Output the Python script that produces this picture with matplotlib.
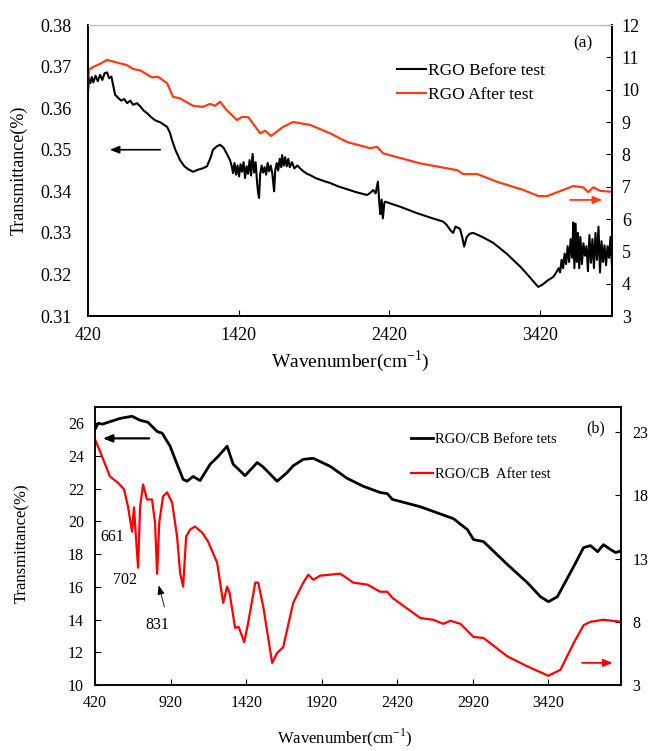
import matplotlib
matplotlib.use("Agg")
import matplotlib.pyplot as plt

plt.rcParams['font.family'] = ['Liberation Serif', 'DejaVu Serif']
plt.rcParams['mathtext.fontset'] = 'custom'
plt.rcParams['mathtext.rm'] = 'Liberation Serif'

# ---- panel (a): RGO ----
a_before_x = [420, 425, 435, 445, 455, 470, 485, 500, 515, 530, 546, 560, 575, 590, 600, 620, 640, 660, 680,
              700, 720, 745, 765, 790, 812, 840, 870, 900, 925, 945, 965, 978, 1000, 1031, 1060, 1090, 1118,
              1150, 1180, 1210, 1235, 1250, 1275, 1297, 1320, 1345, 1363, 1375,
              1383, 1393, 1403, 1413, 1423, 1433, 1443, 1453, 1463, 1473, 1483, 1493, 1503, 1513, 1523, 1533,
              1543, 1550, 1556, 1563, 1573, 1583, 1593, 1603, 1613, 1623, 1633, 1643, 1650, 1656, 1663, 1673,
              1683, 1693, 1703, 1709, 1719, 1729, 1739, 1750, 1760, 1775, 1790, 1810, 1829, 1850, 1875, 1900,
              1930, 1960, 2000, 2028, 2080, 2140, 2200, 2274, 2300, 2314, 2330, 2345, 2355, 2362, 2370, 2378,
              2388, 2393, 2500, 2600, 2700, 2779, 2800, 2830, 2845, 2860, 2890, 2905, 2918, 2935, 2955, 2978,
              3040, 3111, 3200, 3290, 3350, 3390, 3410, 3440, 3470, 3510,
              3530, 3545, 3555, 3565, 3575, 3585, 3595, 3605, 3615, 3625, 3635, 3643, 3650, 3658, 3666, 3674,
              3682, 3690, 3700, 3710, 3720, 3730, 3740, 3750, 3760, 3770, 3780, 3790, 3800, 3810, 3820, 3830,
              3840, 3850, 3860, 3870, 3880, 3890, 3900]
a_before_y = [0.3640, 0.3672, 0.3660, 0.3675, 0.3662, 0.3678, 0.3665, 0.3680, 0.3668, 0.3684, 0.3686, 0.3672,
              0.3676, 0.3650, 0.3632, 0.3625, 0.3618, 0.3622, 0.3612, 0.3618, 0.3608, 0.3612, 0.3605, 0.3594,
              0.3588, 0.3578, 0.3570, 0.3566, 0.3560, 0.3555, 0.3540, 0.3523, 0.3500, 0.3475, 0.3460, 0.3452,
              0.3447, 0.3452, 0.3455, 0.3460, 0.3482, 0.3500, 0.3508, 0.3512, 0.3505, 0.3488, 0.3475, 0.3460,
              0.3444, 0.3468, 0.3440, 0.3462, 0.3436, 0.3465, 0.3447, 0.3470, 0.3432, 0.3460, 0.3442, 0.3475,
              0.3438, 0.3490, 0.3445, 0.3470, 0.3420, 0.3395, 0.3384, 0.3440, 0.3462, 0.3445, 0.3458, 0.3440,
              0.3468, 0.3448, 0.3462, 0.3445, 0.3420, 0.3400, 0.3450, 0.3468, 0.3450, 0.3478, 0.3458, 0.3487,
              0.3462, 0.3482, 0.3460, 0.3478, 0.3458, 0.3470, 0.3455, 0.3462, 0.3455, 0.3448, 0.3442, 0.3438,
              0.3432, 0.3428, 0.3423, 0.3420, 0.3412, 0.3405, 0.3398, 0.3391, 0.3398, 0.3403, 0.3395, 0.3423,
              0.3370, 0.3345, 0.3380, 0.3335, 0.3372, 0.3375, 0.3362, 0.3348, 0.3336, 0.3327, 0.3320, 0.3305,
              0.3300, 0.3315, 0.3310, 0.3290, 0.3267, 0.3290, 0.3298, 0.3300, 0.3290, 0.3276, 0.3250, 0.3219,
              0.3195, 0.3178, 0.3170, 0.3176, 0.3185, 0.3194,
              0.3205, 0.3215, 0.3205, 0.3235, 0.3215, 0.3250, 0.3225, 0.3268, 0.3230, 0.3285, 0.3240, 0.3325,
              0.3215, 0.3322, 0.3230, 0.3300, 0.3215, 0.3290, 0.3225, 0.3275, 0.3245, 0.3268, 0.3208, 0.3295,
              0.3228, 0.3285, 0.3215, 0.3300, 0.3235, 0.3315, 0.3205, 0.3280, 0.3230, 0.3270, 0.3222, 0.3268,
              0.3240, 0.3290, 0.3215]

a_after_x = [420, 425, 452, 500, 546, 611, 679, 719, 765, 845, 885, 945, 985, 1031, 1118, 1184, 1231, 1264,
             1297, 1340, 1410, 1443, 1485, 1563, 1596, 1636, 1716, 1782, 1895, 2028, 2141, 2294, 2340, 2380,
             2626, 2872, 2912, 3005, 3137, 3310, 3410, 3470, 3643, 3709, 3742, 3776, 3822, 3900]
a_after_y = [9.99, 10.61, 10.70, 10.80, 10.92, 10.84, 10.76, 10.64, 10.60, 10.38, 10.40, 10.20, 9.78, 9.73,
             9.50, 9.47, 9.56, 9.50, 9.63, 9.37, 9.06, 9.16, 9.15, 8.65, 8.73, 8.57, 8.85, 9.00, 8.91, 8.65,
             8.38, 8.19, 8.23, 8.03, 7.72, 7.51, 7.39, 7.39, 7.15, 6.90, 6.71, 6.71, 7.02, 6.98, 6.83, 6.98,
             6.87, 6.84]

# ---- panel (b): RGO/CB ----
b_before_x = [420, 440, 470, 519, 586, 665, 718, 771, 831, 864, 917, 963, 1003, 1029, 1069, 1115, 1182, 1235,
              1294, 1334, 1413, 1493, 1530, 1625, 1692, 1731, 1798, 1864, 1976, 2089, 2195, 2307, 2354, 2387,
              2572, 2791, 2884, 2924, 2990, 3149, 3281, 3367, 3420, 3479, 3586, 3652, 3698, 3745, 3784, 3831,
              3864, 3900]
b_before_y = [25.63, 26.00, 25.95, 26.10, 26.30, 26.43, 26.19, 26.06, 25.50, 25.40, 24.60, 23.50, 22.57, 22.46,
              22.75, 22.50, 23.50, 23.98, 24.60, 23.50, 22.80, 23.60, 23.35, 22.46, 23.00, 23.40, 23.80, 23.86,
              23.37, 22.63, 22.15, 21.77, 21.70, 21.35, 20.90, 20.17, 19.50, 18.89, 18.77, 17.36, 16.25, 15.40,
              15.09, 15.40, 17.23, 18.40, 18.52, 18.15, 18.58, 18.28, 18.10, 18.20]

b_after_x = [420, 453, 519, 572, 612, 638, 665, 678, 692, 705, 718, 738, 764, 797, 817, 831, 845, 870, 897,
             930, 963, 983, 1003, 1023, 1049, 1082, 1129, 1168, 1228, 1268, 1294, 1310, 1347, 1370, 1407, 1433,
             1480, 1500, 1533, 1592, 1625, 1665, 1731, 1798, 1831, 1864, 1910, 2043, 2129, 2222, 2307, 2354,
             2387, 2572, 2658, 2725, 2771, 2837, 2924, 2990, 3149, 3281, 3420, 3499, 3586, 3652, 3698, 3784,
             3900]
b_after_y = [22.44, 21.50, 19.50, 19.00, 18.48, 17.13, 15.14, 17.05, 14.50, 12.28, 17.05, 18.87, 17.68, 17.68,
             15.86, 11.80, 15.86, 17.92, 18.24, 17.44, 14.75, 11.89, 10.78, 14.75, 15.30, 15.54, 15.06, 14.35,
             12.68, 9.50, 10.78, 10.30, 7.52, 7.60, 6.40, 7.90, 11.10, 11.10, 9.20, 4.75, 5.54, 6.00, 9.50,
             11.10, 11.73, 11.33, 11.65, 11.81, 11.10, 10.94, 10.38, 10.38, 9.90, 8.30, 8.16, 7.84, 8.08, 7.84,
             6.80, 6.72, 5.26, 4.47, 3.73, 4.20, 6.30, 7.73, 8.00, 8.16, 8.00]

a_xticks = [420, 1420, 2420, 3420]
b_xticks = [420, 920, 1420, 1920, 2420, 2920, 3420]
red_a = '#ff3c14'
xlabel = 'Wavenumber(cm$^{-1}$)'
arrow_style = '-|>,head_length=0.55,head_width=0.22'

fig = plt.figure(figsize=(6.52, 7.51), dpi=100)

# panel (a)
ax1 = fig.add_axes([0.135, 0.5792, 0.8037, 0.3875])
ax1r = ax1.twinx()
l1, = ax1.plot(a_before_x, a_before_y, color='black', lw=1.5)
l2, = ax1r.plot(a_after_x, a_after_y, color=red_a, lw=1.6)
ax1.set_xlim(420, 3900)
ax1.set_ylim(0.31, 0.38)
ax1r.set_ylim(3, 12)
ax1.set_xticks(a_xticks)
ax1.set_yticks([0.31, 0.32, 0.33, 0.34, 0.35, 0.36, 0.37, 0.38])
ax1.set_yticklabels(['0.31', '0.32', '0.33', '0.34', '0.35', '0.36', '0.37', '0.38'])
ax1r.set_yticks(range(3, 13))
ax1.tick_params(axis='x', direction='in', length=4, labelsize=13, pad=8)
ax1.tick_params(axis='y', length=0, labelsize=13, pad=12)
ax1r.tick_params(axis='y', direction='in', length=4, labelsize=13, pad=7)
for ax in (ax1, ax1r):
    ax.spines['top'].set_color('#bbbbbb')
    for s in ('left', 'right', 'bottom'):
        ax.spines[s].set_linewidth(1.3)
ax1.set_xlabel(xlabel, fontsize=14)
ax1.xaxis.set_label_coords(0.5, -0.11)
ax1.set_ylabel('Transmittance(%)', fontsize=13)
ax1.yaxis.set_label_coords(-0.115, 0.5)
ax1.text(0.945, 0.938, '(a)', transform=ax1.transAxes, fontsize=12.5, ha='center', va='center')
ax1r.legend([l1, l2], ['RGO Before test', 'RGO After test'], loc='upper left',
            bbox_to_anchor=(0.56, 0.925), frameon=False, fontsize=12.5, handlelength=1.65,
            handletextpad=0.12, labelspacing=0.45)
ax1.annotate('', xy=(546, 0.35), xytext=(918, 0.35),
             arrowprops=dict(arrowstyle=arrow_style, color='black', lw=1.2))
ax1r.annotate('', xy=(3855, 6.59), xytext=(3603, 6.59),
              arrowprops=dict(arrowstyle=arrow_style, color=red_a, lw=1.3))

# panel (b)
ax2 = fig.add_axes([0.1457, 0.0879, 0.8068, 0.3702])
ax2r = ax2.twinx()
m1, = ax2.plot(b_before_x, b_before_y, color='black', lw=2.0)
m2, = ax2r.plot(b_after_x, b_after_y, color='#ff0000', lw=1.6)
ax2.set_xlim(420, 3900)
ax2.set_ylim(10, 27)
ax2r.set_ylim(3, 25)
ax2.set_xticks(b_xticks)
ax2.set_yticks(range(10, 27, 2))
ax2r.set_yticks([3, 8, 13, 18, 23])
ax2.tick_params(axis='x', direction='in', length=4, labelsize=11.5, pad=7)
ax2.tick_params(axis='y', direction='in', length=4, labelsize=11.5, pad=8)
ax2r.tick_params(axis='y', direction='in', length=4, labelsize=11.5, pad=8)
for ax in (ax2, ax2r):
    for s in ('left', 'right', 'bottom', 'top'):
        ax.spines[s].set_linewidth(1.1)
ax2.set_xlabel(xlabel, fontsize=12)
ax2.xaxis.set_label_coords(0.475, -0.15)
ax2.set_ylabel('Transmittance(%)', fontsize=12)
ax2.yaxis.set_label_coords(-0.124, 0.51)
ax2.text(0.952, 0.924, '(b)', transform=ax2.transAxes, fontsize=11.5, ha='center', va='center')
ax2r.legend([m1, m2], ['RGO/CB Before tets', 'RGO/CB  After test'], loc='upper left',
            bbox_to_anchor=(0.575, 0.955), frameon=False, fontsize=10.5, handlelength=1.55,
            handletextpad=0.12, labelspacing=1.5)
ax2.annotate('', xy=(453, 25.08), xytext=(797, 25.08),
             arrowprops=dict(arrowstyle=arrow_style, color='black', lw=1.6))
ax2r.annotate('', xy=(3864, 4.75), xytext=(3625, 4.75),
              arrowprops=dict(arrowstyle=arrow_style, color='#ff0000', lw=1.3))
ax2.text(533, 19.07, '661', fontsize=11.5, ha='center', va='center')
ax2.text(619, 16.44, '702', fontsize=11.5, ha='center', va='center')
ax2.text(831, 13.68, '831', fontsize=11.5, ha='center', va='center')
ax2.annotate('', xy=(837, 16.25), xytext=(884, 14.6),
             arrowprops=dict(arrowstyle=arrow_style, color='black', lw=0.6))

fig.savefig('out.png', dpi=100)
